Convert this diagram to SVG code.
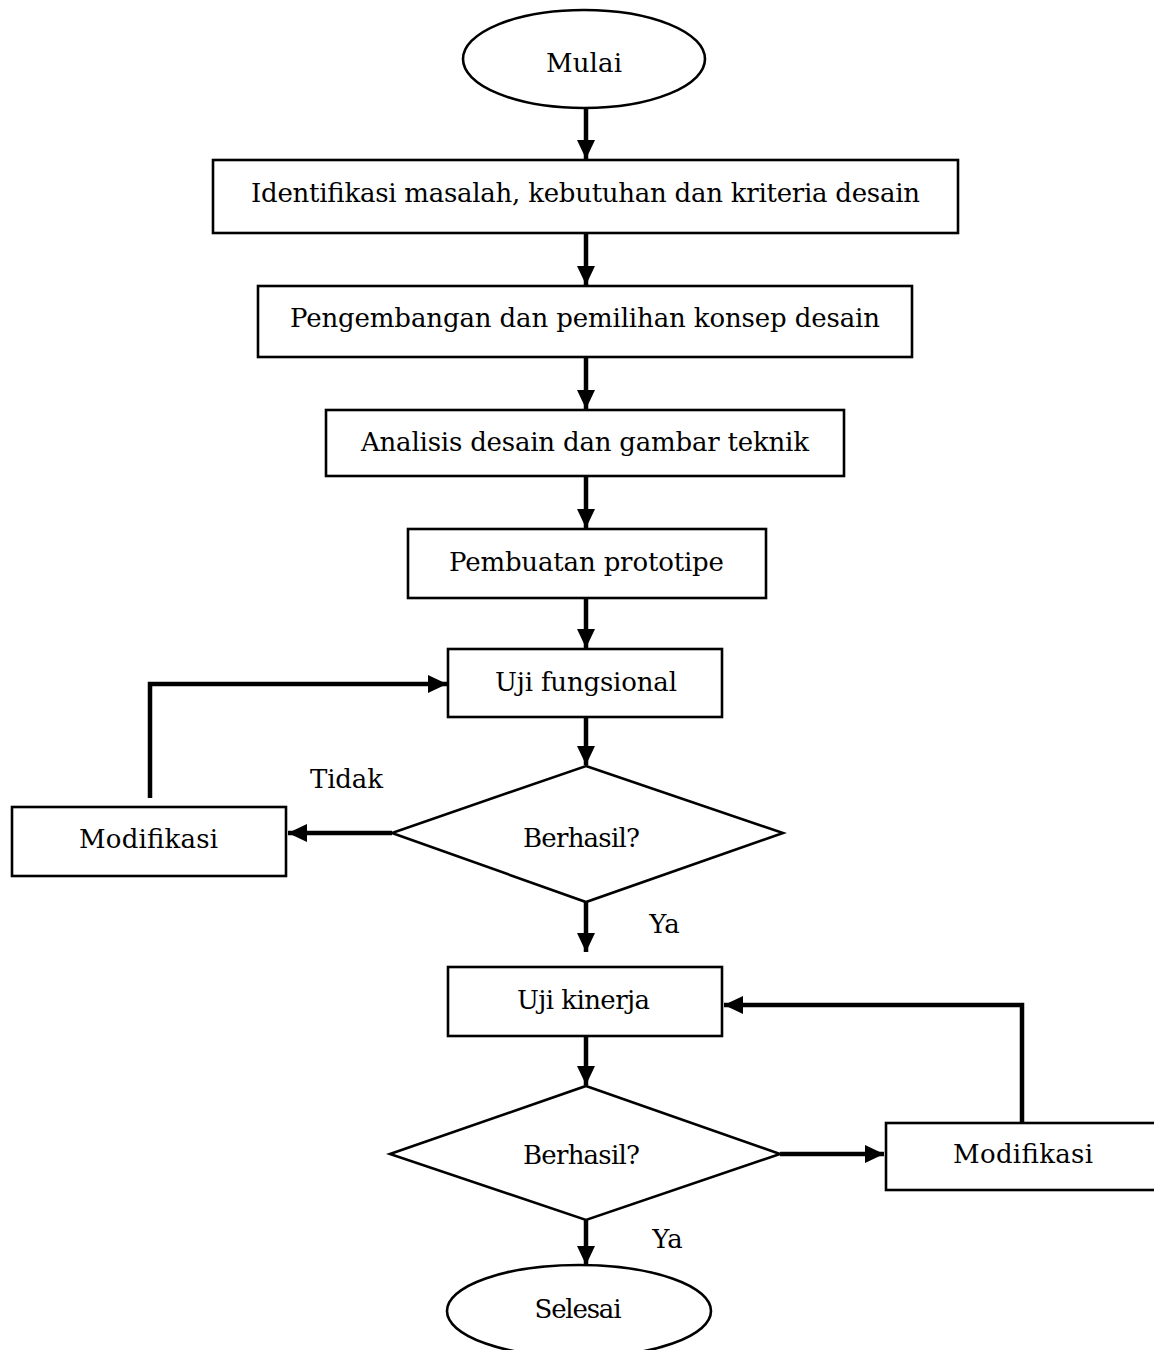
<svg xmlns="http://www.w3.org/2000/svg" width="1154" height="1350" viewBox="0 0 1154 1350">
<style>
.shape{fill:#fff;stroke:#000;stroke-width:2.6}
.lbl{font-family:"DejaVu Serif","Liberation Serif",serif;font-size:26px;fill:#000;text-anchor:middle}
.con{fill:none;stroke:#000;stroke-width:4.5}
</style>
<defs>
<marker id="ah" markerUnits="userSpaceOnUse" markerWidth="20" markerHeight="20" viewBox="0 0 20 20" refX="19" refY="10" orient="auto">
<path d="M0,1 L19,10 L0,19 Z" fill="#000"/>
</marker>
</defs>
<rect width="1154" height="1350" fill="#fff"/>
<g id="connectors">
<line class="con" x1="586" y1="108" x2="586" y2="159" marker-end="url(#ah)"/>
<line class="con" x1="586" y1="234" x2="586" y2="285" marker-end="url(#ah)"/>
<line class="con" x1="586" y1="358" x2="586" y2="409" marker-end="url(#ah)"/>
<line class="con" x1="586" y1="477" x2="586" y2="528" marker-end="url(#ah)"/>
<line class="con" x1="586" y1="599" x2="586" y2="648" marker-end="url(#ah)"/>
<line class="con" x1="586" y1="718" x2="586" y2="765" marker-end="url(#ah)"/>
<line class="con" x1="392" y1="833" x2="288" y2="833" marker-end="url(#ah)"/>
<path class="con" d="M150,798 V684 H447" marker-end="url(#ah)"/>
<line class="con" x1="586" y1="902" x2="586" y2="952" marker-end="url(#ah)"/>
<line class="con" x1="586" y1="1037" x2="586" y2="1085" marker-end="url(#ah)"/>
<line class="con" x1="780" y1="1154" x2="884" y2="1154" marker-end="url(#ah)"/>
<path class="con" d="M1022,1122 V1005 H724" marker-end="url(#ah)"/>
<line class="con" x1="586" y1="1220" x2="586" y2="1265" marker-end="url(#ah)"/>
</g>
<g id="mulai">
<ellipse class="shape" cx="584" cy="59" rx="121" ry="49"/>
<text class="lbl" x="584" y="72" textLength="76">Mulai</text>
</g>
<g id="identifikasi">
<rect class="shape" x="213" y="160" width="745" height="73"/>
<text class="lbl" x="585.5" y="202" textLength="669">Identifikasi masalah, kebutuhan dan kriteria desain</text>
</g>
<g id="pengembangan">
<rect class="shape" x="258" y="286" width="654" height="71"/>
<text class="lbl" x="585" y="327" textLength="590">Pengembangan dan pemilihan konsep desain</text>
</g>
<g id="analisis">
<rect class="shape" x="326" y="410" width="518" height="66"/>
<text class="lbl" x="585" y="451" textLength="448">Analisis desain dan gambar teknik</text>
</g>
<g id="prototipe">
<rect class="shape" x="408" y="529" width="358" height="69"/>
<text class="lbl" x="586.5" y="571" textLength="275">Pembuatan prototipe</text>
</g>
<g id="uji-fungsional">
<rect class="shape" x="448" y="649" width="274" height="68"/>
<text class="lbl" x="586" y="691" textLength="182">Uji fungsional</text>
</g>
<g id="berhasil-1">
<polygon class="shape" points="586,766 783,833 586,902 392,833"/>
<text class="lbl" x="581.5" y="847" textLength="117">Berhasil?</text>
</g>
<g id="modifikasi-1">
<rect class="shape" x="12" y="807" width="274" height="69"/>
<text class="lbl" x="148.5" y="848" textLength="139">Modifikasi</text>
</g>
<g id="label-tidak">
<text class="lbl" x="346.5" y="788" textLength="73">Tidak</text>
</g>
<g id="label-ya-1">
<text class="lbl" x="664.5" y="933">Ya</text>
</g>
<g id="uji-kinerja">
<rect class="shape" x="448" y="967" width="274" height="69"/>
<text class="lbl" x="583.5" y="1009" textLength="133">Uji kinerja</text>
</g>
<g id="berhasil-2">
<polygon class="shape" points="586,1086 780,1154 586,1220 390,1154"/>
<text class="lbl" x="581.5" y="1164" textLength="117">Berhasil?</text>
</g>
<g id="modifikasi-2">
<rect class="shape" x="886" y="1123" width="280" height="67"/>
<text class="lbl" x="1023" y="1163" textLength="140">Modifikasi</text>
</g>
<g id="label-ya-2">
<text class="lbl" x="667.5" y="1248">Ya</text>
</g>
<g id="selesai">
<ellipse class="shape" cx="579" cy="1311" rx="132" ry="46"/>
<text class="lbl" x="578" y="1318" textLength="87">Selesai</text>
</g>
</svg>
